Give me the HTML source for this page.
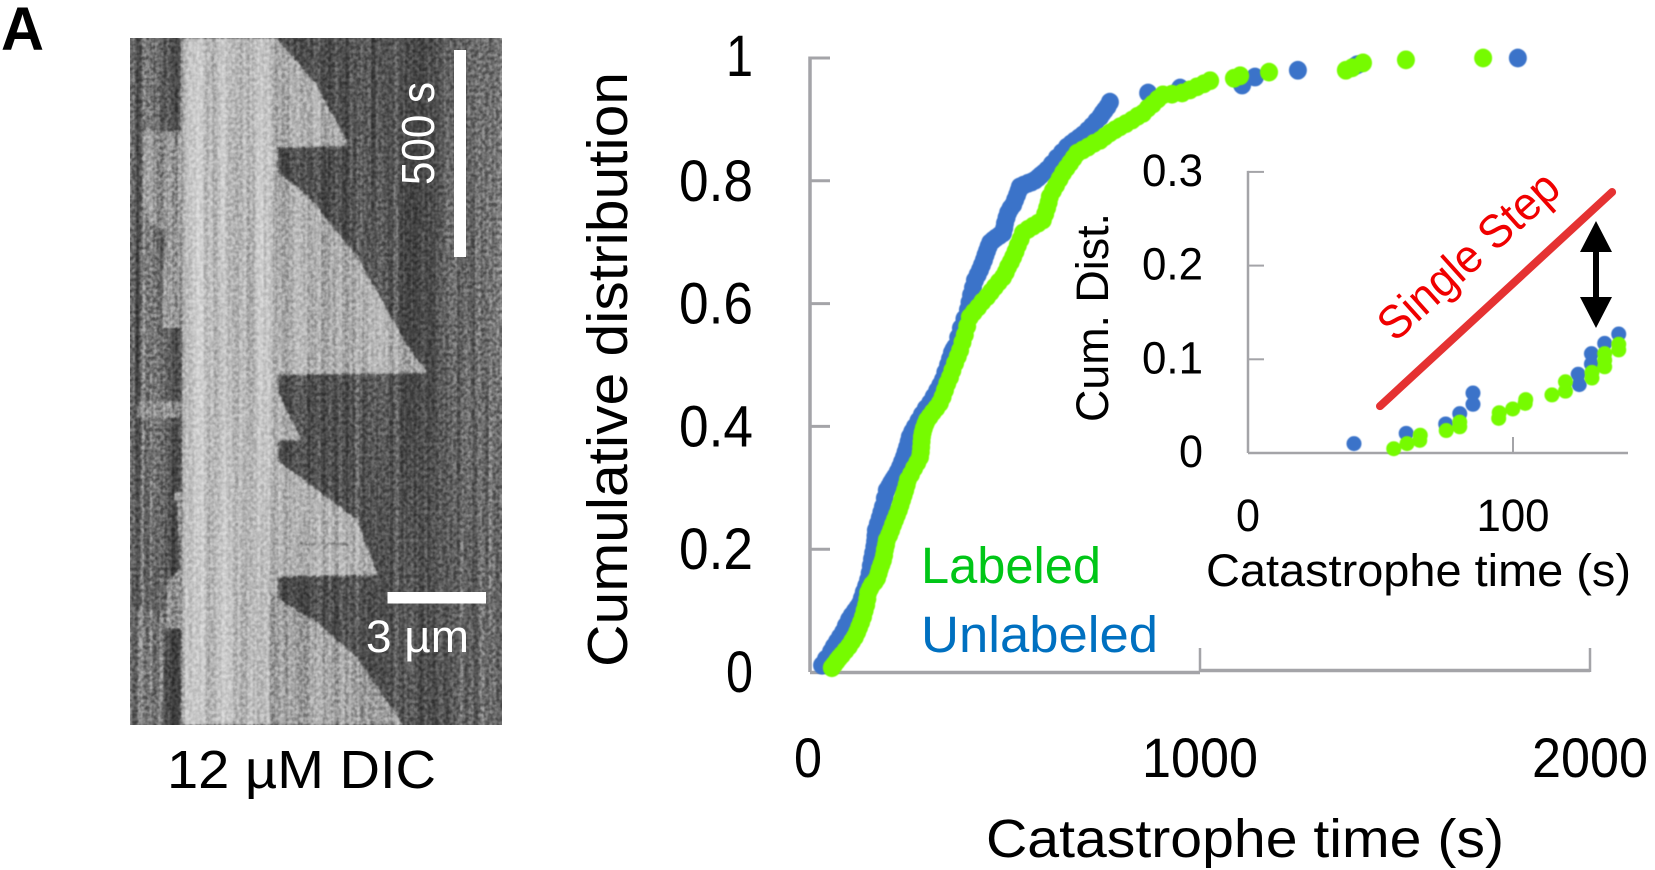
<!DOCTYPE html>
<html lang="en">
<head>
<meta charset="utf-8">
<title>Catastrophe time cumulative distribution</title>
<style>
  html, body { margin: 0; padding: 0; background: #fff; }
  #figure { display: block; width: 1655px; height: 870px; background: #fff; }
  text { font-family: "Liberation Sans", sans-serif; }
  .blend { mix-blend-mode: overlay; }
</style>
</head>
<body>
<svg id="figure" xmlns="http://www.w3.org/2000/svg" width="1655" height="870" viewBox="0 0 1655 870">
  <defs>
    <linearGradient id="dark-profile" gradientUnits="userSpaceOnUse" x1="130" y1="0" x2="502" y2="0">
      <stop offset="0" stop-color="#7a7a7a"/>
      <stop offset="0.019" stop-color="#3f3f3f"/>
      <stop offset="0.035" stop-color="#7a7a7a"/>
      <stop offset="0.054" stop-color="#6a6a6a"/>
      <stop offset="0.075" stop-color="#757575"/>
      <stop offset="0.094" stop-color="#5a5a5a"/>
      <stop offset="0.113" stop-color="#4a4a4a"/>
      <stop offset="0.14" stop-color="#484848"/>
      <stop offset="0.38" stop-color="#4b4b4b"/>
      <stop offset="0.585" stop-color="#505050"/>
      <stop offset="0.61" stop-color="#5e5e5e"/>
      <stop offset="0.645" stop-color="#4e4e4e"/>
      <stop offset="0.72" stop-color="#585858"/>
      <stop offset="0.79" stop-color="#484848"/>
      <stop offset="0.845" stop-color="#5c5c5c"/>
      <stop offset="0.91" stop-color="#666666"/>
      <stop offset="1" stop-color="#6c6c6c"/>
    </linearGradient>
    <linearGradient id="band-profile" gradientUnits="userSpaceOnUse" x1="180" y1="0" x2="278" y2="0">
      <stop offset="0" stop-color="#8f8f8f"/>
      <stop offset="0.06" stop-color="#bcbcbc"/>
      <stop offset="0.2" stop-color="#cccccc"/>
      <stop offset="0.32" stop-color="#b4b4b4"/>
      <stop offset="0.45" stop-color="#c4c4c4"/>
      <stop offset="0.7" stop-color="#b2b2b2"/>
      <stop offset="0.84" stop-color="#c6c6c6"/>
      <stop offset="1" stop-color="#b0b0b0"/>
    </linearGradient>
    <filter id="grain" x="0" y="0" width="100%" height="100%" color-interpolation-filters="sRGB">
      <feTurbulence type="fractalNoise" baseFrequency="0.28" numOctaves="2" seed="4"/>
      <feGaussianBlur stdDeviation="0.6"/>
      <feColorMatrix type="matrix" values="2.6 0 0 0 -0.8  2.6 0 0 0 -0.8  2.6 0 0 0 -0.8  0 0 0 0 0.28"/>
    </filter>
    <filter id="stripes" x="0" y="0" width="100%" height="100%" color-interpolation-filters="sRGB">
      <feTurbulence type="fractalNoise" baseFrequency="0.18 0.002" numOctaves="2" seed="9"/>
      <feColorMatrix type="matrix" values="2.6 0 0 0 -0.8  2.6 0 0 0 -0.8  2.6 0 0 0 -0.8  0 0 0 0 0.2"/>
    </filter>
    <filter id="soft" x="-5%" y="-5%" width="110%" height="110%">
      <feGaussianBlur stdDeviation="1"/>
    </filter>
    <filter id="dot-soft" x="-5%" y="-5%" width="110%" height="110%">
      <feGaussianBlur stdDeviation="0.5"/>
    </filter>
    <clipPath id="panel-clip"><rect x="130" y="38" width="372" height="687"/></clipPath>
  </defs>

  <text x="1" y="50" font-size="61" font-weight="bold" fill="#000" textLength="43" lengthAdjust="spacingAndGlyphs">A</text>

  <g clip-path="url(#panel-clip)">
    <rect x="130" y="38" width="372" height="687" fill="url(#dark-profile)"/>
    <g filter="url(#soft)">
      <polygon points="143,131 183,131 183,328 162,328 163,270 167,232 150,225 143,205" fill="#9a9a9a" fill-opacity="0.8"/>
      <rect x="137" y="402" width="46" height="16" fill="#929292" fill-opacity="0.85"/>
      <polygon points="183,492 175,492 172,502 177,502 180,568 167,582 165,629 183,629" fill="#9a9a9a"/>
      <rect x="137" y="610" width="26" height="115" fill="#8c8c8c" fill-opacity="0.7"/>
      <rect x="181" y="38" width="97" height="687" fill="url(#band-profile)"/>
      <polygon points="270,38 277,38 316,84 348,143 348,146 270,148" fill="#acacac"/>
      <polygon points="270,168 277,171 310,198 357,257 404,340 427,372 427,373 270,375" fill="#acacac"/>
      <polygon points="270,378 273,382 300,437 300,440 270,441" fill="#acacac"/>
      <polygon points="270,457 277,460 316,489 357,520 377,573 377,575 270,577" fill="#b0b0b0"/>
      <polygon points="270,592 277,598 316,622 357,657 403,725 270,725" fill="#a2a2a2"/>
      <rect x="300" y="543" width="50" height="2" fill="#7c7c7c"/>
    </g>
    <rect class="blend" x="130" y="38" width="372" height="687" filter="url(#stripes)"/>
    <rect class="blend" x="130" y="38" width="372" height="687" filter="url(#grain)"/>
  </g>
  <rect x="454" y="50" width="12" height="207" fill="#fff"/>
  <rect x="387.5" y="592" width="98.5" height="11.5" fill="#fff"/>
  <text transform="translate(434,185) rotate(-90)" font-size="46" fill="#fff" textLength="103" lengthAdjust="spacingAndGlyphs">500 s</text>
  <text x="366" y="652" font-size="45" fill="#fff" textLength="103" lengthAdjust="spacingAndGlyphs">3 µm</text>
  <text x="167" y="788" font-size="54" fill="#000" textLength="269" lengthAdjust="spacingAndGlyphs">12 µM DIC</text>

  <text transform="translate(627,667) rotate(-90)" font-size="57" fill="#000" textLength="595" lengthAdjust="spacingAndGlyphs">Cumulative distribution</text>
  <text x="986" y="857" font-size="54" fill="#000" textLength="518" lengthAdjust="spacingAndGlyphs">Catastrophe time (s)</text>
  <text x="921" y="583" font-size="51" fill="#00c617" textLength="180" lengthAdjust="spacingAndGlyphs">Labeled</text>
  <text x="921" y="652" font-size="51" fill="#0070c0" textLength="237" lengthAdjust="spacingAndGlyphs">Unlabeled</text>

  <text transform="translate(1108,422) rotate(-90)" font-size="45" fill="#000" textLength="209" lengthAdjust="spacingAndGlyphs">Cum. Dist.</text>
  <text x="1206" y="586" font-size="45" fill="#000" textLength="425" lengthAdjust="spacingAndGlyphs">Catastrophe time (s)</text>
  <text transform="translate(1395,343) rotate(-42)" font-size="47" fill="#f00000" textLength="226" lengthAdjust="spacingAndGlyphs">Single Step</text>

  <g id="main-chart"></g>
  <g id="inset-chart"></g>

  <g>
    <rect x="1593" y="250" width="6" height="50" fill="#000"/>
    <polygon points="1596,221 1612,252 1580,252" fill="#000"/>
    <polygon points="1596,328 1612,297 1580,297" fill="#000"/>
  </g>
</svg>

<script>
// Main chart data
const mainXTicks = [0, 1000, 2000];
const mainXTickLabels = ['0', '1000', '2000'];
const mainYTicks = [0, 0.2, 0.4, 0.6, 0.8, 1];
const mainYTickLabels = ['0', '0.2', '0.4', '0.6', '0.8', '1'];

const unlabeledTimes = [31, 41, 54, 61, 69, 77, 85, 92, 100, 107, 115, 122, 128, 133, 138, 144, 149, 153, 156, 159, 162, 165, 167, 168, 169, 174, 179, 183, 187, 192, 197, 203, 208, 213, 218, 225, 231, 236, 241, 245, 249, 253, 256, 262, 269, 278, 287, 297, 308, 317, 326, 334, 341, 347, 354, 359, 364, 368, 372, 380, 387, 396, 405, 409, 413, 418, 423, 430, 436, 441, 446, 450, 454, 458, 462, 469, 477, 486, 495, 498, 500, 504, 508, 514, 521, 526, 531, 535, 538, 548, 559, 568, 577, 585, 592, 600, 608, 620, 633, 646, 659, 669, 679, 690, 700, 712, 723, 734, 744, 750, 756, 763, 769, 867, 949, 1108, 1141, 1251, 1403, 1815];
const unlabeledCum = [0.011, 0.021, 0.033, 0.041, 0.049, 0.057, 0.065, 0.075, 0.085, 0.092, 0.099, 0.105, 0.111, 0.12, 0.13, 0.14, 0.15, 0.161, 0.173, 0.184, 0.194, 0.204, 0.213, 0.222, 0.231, 0.241, 0.251, 0.26, 0.269, 0.283, 0.296, 0.302, 0.308, 0.313, 0.318, 0.326, 0.334, 0.342, 0.35, 0.358, 0.366, 0.375, 0.383, 0.391, 0.399, 0.409, 0.419, 0.429, 0.438, 0.448, 0.458, 0.467, 0.476, 0.488, 0.5, 0.51, 0.52, 0.525, 0.529, 0.545, 0.56, 0.575, 0.59, 0.602, 0.614, 0.626, 0.638, 0.647, 0.655, 0.663, 0.671, 0.679, 0.686, 0.693, 0.699, 0.703, 0.707, 0.711, 0.715, 0.723, 0.731, 0.74, 0.748, 0.755, 0.761, 0.769, 0.777, 0.784, 0.79, 0.793, 0.796, 0.798, 0.801, 0.805, 0.809, 0.813, 0.818, 0.827, 0.837, 0.846, 0.855, 0.86, 0.865, 0.87, 0.875, 0.882, 0.889, 0.897, 0.904, 0.91, 0.915, 0.921, 0.928, 0.943, 0.951, 0.956, 0.969, 0.98, 0.989, 1.0];

const labeledTimes = [56, 62, 69, 75, 82, 91, 100, 108, 115, 121, 126, 131, 136, 140, 144, 147, 149, 154, 159, 166, 172, 176, 179, 183, 187, 190, 192, 195, 197, 203, 208, 213, 218, 223, 228, 232, 236, 240, 244, 248, 251, 259, 267, 275, 282, 284, 285, 286, 287, 289, 292, 296, 300, 307, 315, 324, 333, 340, 346, 352, 359, 365, 372, 379, 385, 391, 397, 403, 410, 420, 431, 442, 454, 464, 474, 484, 495, 502, 508, 515, 521, 527, 533, 540, 546, 559, 572, 585, 597, 603, 608, 612, 615, 623, 631, 640, 649, 658, 667, 676, 685, 699, 713, 728, 744, 756, 769, 782, 795, 810, 826, 840, 854, 866, 879, 892, 905, 928, 954, 974, 992, 1010, 1026, 1087, 1103, 1177, 1374, 1390, 1418, 1528, 1726];
const labeledCum = [0.007, 0.012, 0.018, 0.023, 0.028, 0.035, 0.042, 0.05, 0.057, 0.065, 0.073, 0.081, 0.09, 0.1, 0.109, 0.119, 0.129, 0.136, 0.142, 0.147, 0.153, 0.161, 0.168, 0.175, 0.182, 0.19, 0.199, 0.207, 0.215, 0.223, 0.231, 0.24, 0.248, 0.256, 0.264, 0.272, 0.28, 0.288, 0.296, 0.305, 0.313, 0.322, 0.332, 0.341, 0.35, 0.358, 0.366, 0.375, 0.383, 0.39, 0.397, 0.404, 0.41, 0.416, 0.423, 0.43, 0.438, 0.448, 0.459, 0.47, 0.48, 0.491, 0.503, 0.514, 0.524, 0.537, 0.549, 0.563, 0.578, 0.586, 0.594, 0.603, 0.611, 0.619, 0.627, 0.635, 0.643, 0.651, 0.66, 0.668, 0.676, 0.685, 0.695, 0.705, 0.715, 0.721, 0.726, 0.731, 0.736, 0.746, 0.756, 0.765, 0.774, 0.784, 0.793, 0.803, 0.813, 0.821, 0.829, 0.837, 0.845, 0.85, 0.855, 0.861, 0.866, 0.872, 0.878, 0.883, 0.888, 0.893, 0.899, 0.905, 0.91, 0.918, 0.925, 0.933, 0.94, 0.941, 0.943, 0.948, 0.953, 0.958, 0.963, 0.967, 0.971, 0.977, 0.98, 0.984, 0.992, 0.997, 1.0];

// Inset chart data
const insetXTicks = [0, 100];
const insetXTickLabels = ['0', '100'];
const insetYTicks = [0, 0.1, 0.2, 0.3];
const insetYTickLabels = ['0', '0.1', '0.2', '0.3'];

const insetUnlabeledTimes = [40, 59.7, 74.6, 79.9, 84.9, 84.9, 125, 124.6, 129.6, 129.6, 134.6, 139.9];
const insetUnlabeledCum = [0.01, 0.021, 0.031, 0.042, 0.052, 0.064, 0.073, 0.084, 0.095, 0.106, 0.117, 0.127];

const insetLabeledTimes = [55, 60, 64.8, 65, 74.8, 79.9, 79.9, 94.6, 94.8, 99.9, 104.6, 104.8, 114.7, 119.8, 119.8, 129.8, 129.8, 134.6, 134.6, 134.6, 139.9, 139.9];
const insetLabeledCum = [0.0046, 0.01, 0.0135, 0.019, 0.024, 0.028, 0.033, 0.037, 0.043, 0.047, 0.053, 0.057, 0.062, 0.066, 0.076, 0.08, 0.086, 0.092, 0.099, 0.106, 0.11, 0.116];

const singleStepTimes = [49.8, 137.4];
const singleStepCum = [0.05, 0.2785];

const NS = 'http://www.w3.org/2000/svg';
const AXIS_COLOR = '#a4a4a8';
const BLUE = '#3b73c9';
const GREEN = '#76fb00';

function mainX(t) { return 810 + t * 0.39; }
function mainY(v) { return 672 - v * 614; }
function insetX(t) { return 1248 + t * 2.65; }
function insetY(v) { return 453 - v * 937; }

function node(tag, parent) {
  const el = document.createElementNS(NS, tag);
  parent.appendChild(el);
  return el;
}

function line(parent, x1, y1, x2, y2, width) {
  const el = node('line', parent);
  el.setAttribute('x1', x1);
  el.setAttribute('y1', y1);
  el.setAttribute('x2', x2);
  el.setAttribute('y2', y2);
  el.setAttribute('stroke', AXIS_COLOR);
  el.setAttribute('stroke-width', width);
  return el;
}

function label(parent, x, y, text, size, anchor, length) {
  const el = node('text', parent);
  el.setAttribute('x', x);
  el.setAttribute('y', y);
  el.setAttribute('font-size', size);
  el.setAttribute('text-anchor', anchor);
  el.setAttribute('fill', '#000');
  el.setAttribute('textLength', length);
  el.setAttribute('lengthAdjust', 'spacingAndGlyphs');
  el.textContent = text;
  return el;
}

function dots(parent, xs, ys, sx, sy, rx, ry, color) {
  const g = node('g', parent);
  g.setAttribute('filter', 'url(#dot-soft)');
  xs.forEach(function (t, i) {
    const el = node('ellipse', g);
    el.setAttribute('cx', sx(t));
    el.setAttribute('cy', sy(ys[i]));
    el.setAttribute('rx', rx);
    el.setAttribute('ry', ry);
    el.setAttribute('fill', color);
    
    
  });
  return g;
}

const mainChart = document.getElementById('main-chart');
const insetChart = document.getElementById('inset-chart');

// Main axes
const mainYAxis = line(mainChart, mainX(0), mainY(1) - 1.5, mainX(0), mainY(0), 3.5);


const mainXAxisA = line(mainChart, mainX(0), mainY(0) + 0.5, mainX(1000), mainY(0) + 0.5, 3.5);


const mainXAxisB = line(mainChart, mainX(1000), mainY(0) - 1.5, mainX(2000), mainY(0) - 1.5, 3.5);



mainYTicks.forEach(function (v, i) {
  if (v > 0) {
    const tick = line(mainChart, mainX(0), mainY(v), mainX(0) + 20, mainY(v), 3);
    
    
  }
  const text = mainYTickLabels[i];
  const tl = label(mainChart, 753, mainY(v) + 20 - (v === 1 ? 2 : 0), text, 58, 'end', text.length > 1 ? 74 : 27);
  
  
});

mainXTicks.forEach(function (t, i) {
  if (t > 0) {
    const tick = line(mainChart, mainX(t), mainY(0) - 24, mainX(t), mainY(0), 2.5);
    
    
  }
  const text = mainXTickLabels[i];
  const tl = label(mainChart, mainX(t) - (t === 0 ? 2 : 0), 777, text, 56, 'middle', text.length > 1 ? 116 : 28);
  
  
});

const unlabeledSeries = dots(mainChart, unlabeledTimes, unlabeledCum, mainX, mainY, 9, 9.4, BLUE);


const labeledSeries = dots(mainChart, labeledTimes, labeledCum, mainX, mainY, 9, 9.4, GREEN);



// Inset axes
const insetYAxis = line(insetChart, insetX(0), insetY(0.3) - 1, insetX(0), insetY(0), 2.5);


const insetXAxis = line(insetChart, insetX(0), insetY(0), 1628, insetY(0), 2.5);



insetYTicks.forEach(function (v, i) {
  if (v > 0) {
    const tick = line(insetChart, insetX(0), insetY(v), insetX(0) + 16, insetY(v), 2);
    
    
  }
  const text = insetYTickLabels[i];
  const tl = label(insetChart, 1203, insetY(v) + 14, text, 45, 'end', text.length > 1 ? 61 : 24);
  
  
});

insetXTicks.forEach(function (t, i) {
  if (t > 0) {
    const tick = line(insetChart, insetX(t), insetY(0) - 16, insetX(t), insetY(0), 2);
    
    
  }
  const text = insetXTickLabels[i];
  const tl = label(insetChart, insetX(t), 531, text, 45, 'middle', text.length > 1 ? 73 : 24);
  
  
});

const singleStepLine = node('line', insetChart);
singleStepLine.setAttribute('x1', insetX(singleStepTimes[0]));
singleStepLine.setAttribute('y1', insetY(singleStepCum[0]));
singleStepLine.setAttribute('x2', insetX(singleStepTimes[1]));
singleStepLine.setAttribute('y2', insetY(singleStepCum[1]));
singleStepLine.setAttribute('stroke', '#e53232');
singleStepLine.setAttribute('stroke-width', 8);
singleStepLine.setAttribute('stroke-linecap', 'round');



const insetUnlabeledSeries = dots(insetChart, insetUnlabeledTimes, insetUnlabeledCum, insetX, insetY, 7.5, 7.5, BLUE);


const insetLabeledSeries = dots(insetChart, insetLabeledTimes, insetLabeledCum, insetX, insetY, 7.5, 7.5, GREEN);


</script>
</body>
</html>
